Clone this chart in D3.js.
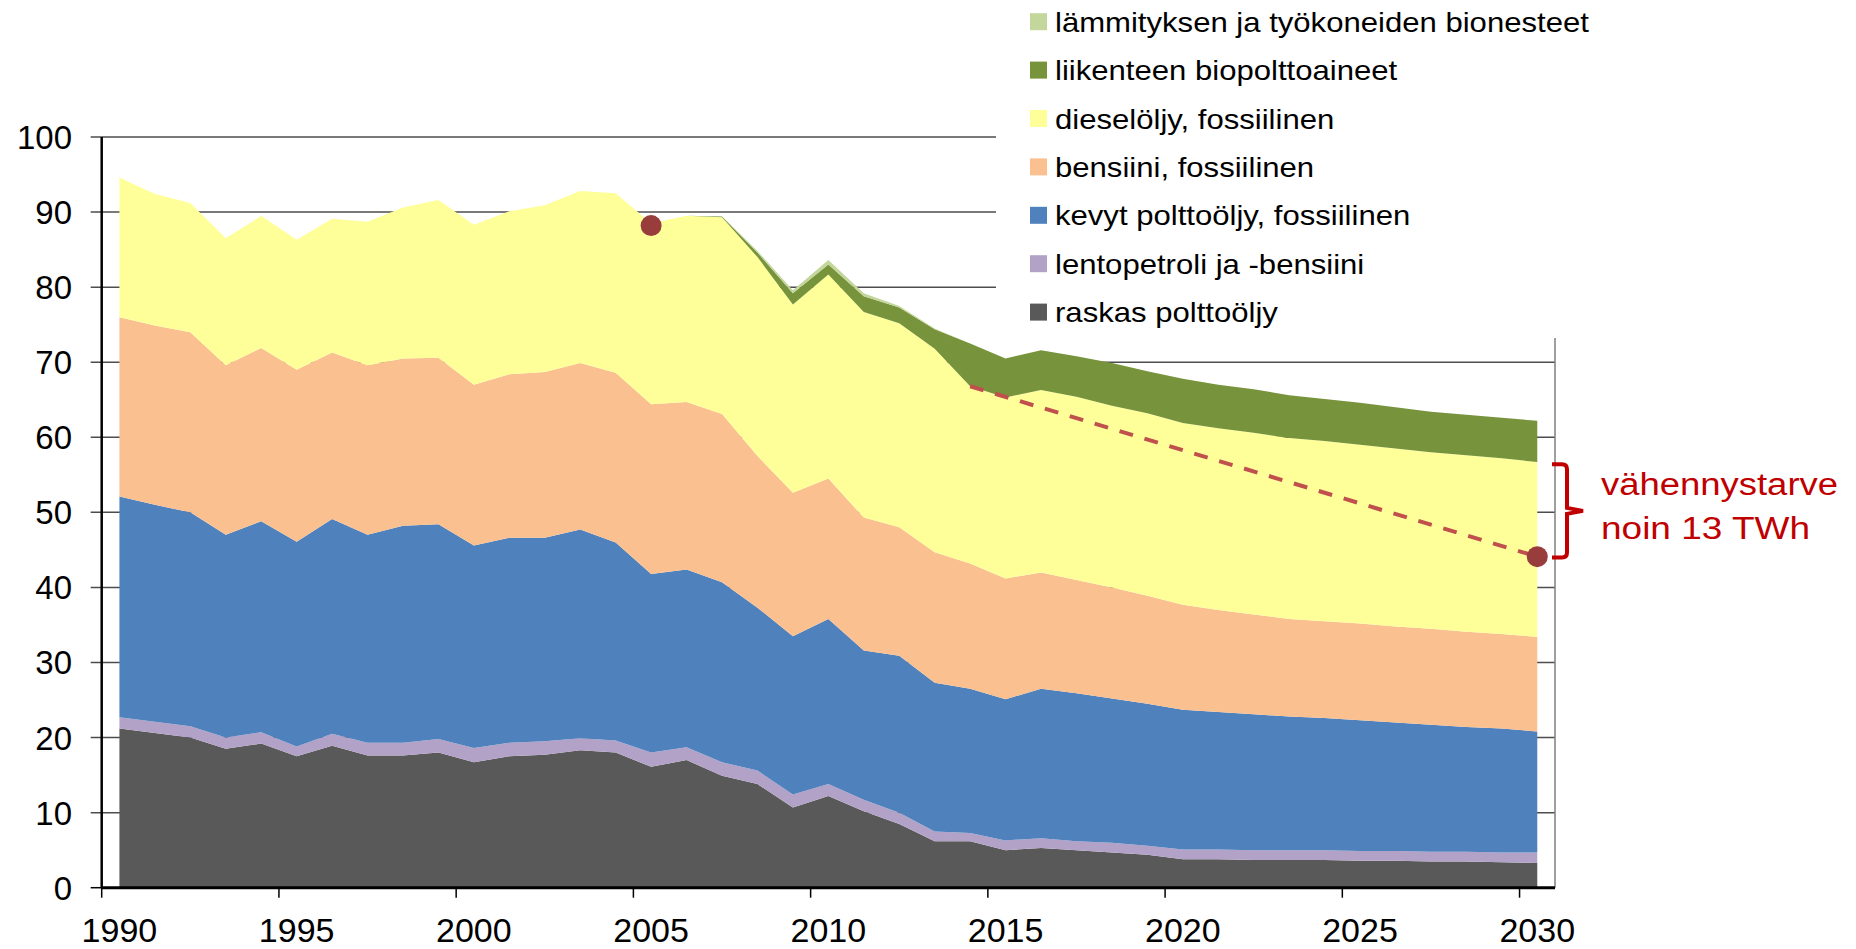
<!DOCTYPE html>
<html>
<head>
<meta charset="utf-8">
<script src="https://cdn.jsdelivr.net/npm/d3@7/dist/d3.min.js"></script>
<style>
body { margin: 0; background: #fff; }
svg { display: block; font-family: "Liberation Sans", Arial, sans-serif; }
</style>
</head>
<body>
<div id="chart"></div>
<script>
// vuodet (kategoriat)
var years = [1990, 1991, 1992, 1993, 1994, 1995, 1996, 1997, 1998, 1999,
	2000, 2001, 2002, 2003, 2004, 2005, 2006, 2007, 2008, 2009,
	2010, 2011, 2012, 2013, 2014, 2015, 2016, 2017, 2018, 2019,
	2020, 2021, 2022, 2023, 2024, 2025, 2026, 2027, 2028, 2029, 2030];

// TWh per sarja, alhaalta ylös
var raskas = [21.2, 20.6, 20.0, 18.5, 19.2, 17.5, 18.9, 17.6, 17.6, 18.0,
	16.7, 17.5, 17.7, 18.3, 18.0, 16.1, 17.0, 14.9, 13.8, 10.7,
	12.2, 10.2, 8.5, 6.2, 6.2, 5.0, 5.3, 5.0, 4.7, 4.4,
	3.8, 3.8, 3.7, 3.7, 3.7, 3.6, 3.6, 3.5, 3.5, 3.4, 3.3];
var lento = [1.5, 1.5, 1.5, 1.5, 1.5, 1.3, 1.6, 1.7, 1.7, 1.8,
	1.9, 1.8, 1.8, 1.6, 1.6, 1.9, 1.7, 1.8, 1.8, 1.7,
	1.6, 1.5, 1.5, 1.3, 1.1, 1.3, 1.3, 1.2, 1.3, 1.2,
	1.3, 1.3, 1.3, 1.3, 1.3, 1.3, 1.3, 1.3, 1.3, 1.3, 1.4];
var kevyt = [29.4, 28.9, 28.5, 27.0, 28.1, 27.3, 28.6, 27.7, 28.9, 28.6,
	27.0, 27.3, 27.1, 27.8, 26.4, 23.8, 23.7, 24.0, 21.7, 21.1,
	22.0, 19.9, 20.9, 19.8, 19.2, 18.8, 19.9, 19.7, 19.2, 18.9,
	18.6, 18.3, 18.1, 17.8, 17.6, 17.4, 17.1, 16.9, 16.6, 16.5, 16.1];
var bensiini = [23.9, 23.9, 24.0, 22.6, 23.1, 22.9, 22.2, 22.6, 22.3, 22.2,
	21.4, 21.8, 22.1, 22.2, 22.6, 22.6, 22.3, 22.4, 20.2, 19.1,
	18.7, 17.7, 17.1, 17.4, 16.7, 16.1, 15.5, 15.1, 14.8, 14.4,
	14.0, 13.6, 13.3, 13.0, 12.9, 12.9, 12.8, 12.8, 12.7, 12.6, 12.6];
var diesel = [18.6, 17.5, 17.2, 16.9, 17.6, 17.3, 17.8, 19.1, 20.1, 21.0,
	21.3, 21.7, 22.2, 22.9, 23.9, 24.1, 24.8, 26.2, 26.5, 25.1,
	27.2, 27.4, 27.2, 27.1, 23.6, 24.1, 24.3, 24.4, 24.2, 24.3,
	24.2, 24.2, 24.2, 24.1, 24.0, 23.8, 23.7, 23.5, 23.5, 23.4, 23.3];
var liikenneBio = [0, 0, 0, 0, 0, 0, 0, 0, 0, 0,
	0, 0, 0, 0, 0, 0, 0, 0.1, 0.6, 1.5,
	1.3, 2.1, 2.1, 2.6, 5.7, 5.2, 5.3, 5.4, 5.7, 5.6,
	5.9, 5.8, 5.8, 5.7, 5.6, 5.6, 5.5, 5.4, 5.4, 5.4, 5.5];
var lammitysBio = [0, 0, 0, 0, 0, 0, 0, 0, 0, 0,
	0, 0, 0, 0, 0, 0, 0, 0, 0.2, 0.4,
	0.6, 0.4, 0.2, 0.1, 0, 0, 0, 0, 0, 0,
	0, 0, 0, 0, 0, 0, 0, 0, 0, 0, 0];

var seriesNames = ["raskas polttoöljy", "lentopetroli ja -bensiini", "kevyt polttoöljy, fossiilinen",
	"bensiini, fossiilinen", "dieselöljy, fossiilinen", "liikenteen biopolttoaineet",
	"lämmityksen ja työkoneiden bionesteet"];
var seriesValues = [raskas, lento, kevyt, bensiini, diesel, liikenneBio, lammitysBio];
var seriesColors = ["#595959", "#b3a2c7", "#4f81bd", "#fac090", "#ffff99", "#77933c", "#c3d69b"];

var yTicks = [0, 10, 20, 30, 40, 50, 60, 70, 80, 90, 100];
var xTickYears = [1990, 1995, 2000, 2005, 2010, 2015, 2020, 2025, 2030];

// tavoitepisteet ja vähennyspolku
var targetYears = [2005, 2030];
var targetValues = [88.2, 44.1];
var pathYears = [2014, 2030];
var pathValues = [66.8, 44.1];
var braceValues = [56.4, 44.0];
var noteLines = ["vähennystarve", "noin 13 TWh"];

var width = 1856, height = 949;

var svg = d3.select("#chart").append("svg")
	.attr("width", width)
	.attr("height", height);

var x = d3.scaleLinear().domain([1990, 2031]).range([101.7, 1555]);
var y = d3.scaleLinear().domain([0, 100]).range([887.7, 137]);

// venytetään teksti kuten alkuperäisessä kuvassa
function stretch(sel, k) {
	sel.each(function() {
		var w = this.getComputedTextLength();
		d3.select(this).attr("textLength", w * k).attr("lengthAdjust", "spacingAndGlyphs");
	});
}

// taulukko pinoamista varten
var table = years.map(function(yr, i) {
	var row = {year: yr};
	seriesNames.forEach(function(n, j) { row[n] = seriesValues[j][i]; });
	return row;
});
var stacked = d3.stack().keys(seriesNames)(table);

// vaakaviivat
svg.append("g").selectAll("line")
	.data(yTicks.slice(1))
	.enter().append("line")
	.attr("x1", x(1990) - 11)
	.attr("x2", x(2031))
	.attr("y1", function(d) { return y(d); })
	.attr("y2", function(d) { return y(d); })
	.attr("stroke", "#4d4d4d")
	.attr("stroke-width", 1.5);

var area = d3.area()
	.x(function(d) { return x(d.data.year + 0.5); })
	.y0(function(d) { return y(d[0]); })
	.y1(function(d) { return y(d[1]); });

svg.append("g").selectAll("path")
	.data(stacked)
	.enter().append("path")
	.attr("d", area)
	.attr("fill", function(d, i) { return seriesColors[i]; });

// selitteen tausta peittää ruudukon
svg.append("rect")
	.attr("x", 996).attr("y", 0)
	.attr("width", width - 996).attr("height", 337)
	.attr("fill", "#fff");

// oikea reuna
svg.append("line")
	.attr("x1", x(2031)).attr("x2", x(2031))
	.attr("y1", 338).attr("y2", y(0))
	.attr("stroke", "#7f7f7f").attr("stroke-width", 1.5);

// y-akseli
svg.append("line")
	.attr("x1", x(1990)).attr("x2", x(1990))
	.attr("y1", y(100)).attr("y2", y(0))
	.attr("stroke", "#000").attr("stroke-width", 2.5);

svg.append("line")
	.attr("x1", x(1990) - 11).attr("x2", x(1990))
	.attr("y1", y(0)).attr("y2", y(0))
	.attr("stroke", "#000").attr("stroke-width", 1.5);

svg.append("g").selectAll("text")
	.data(yTicks)
	.enter().append("text")
	.attr("x", 72)
	.attr("y", function(d) { return y(d) + 12; })
	.attr("text-anchor", "end")
	.attr("font-size", 33)
	.attr("fill", "#000")
	.text(function(d) { return d; });

// x-akseli
svg.append("line")
	.attr("x1", x(1990)).attr("x2", x(2031))
	.attr("y1", y(0)).attr("y2", y(0))
	.attr("stroke", "#000").attr("stroke-width", 3);

svg.append("g").selectAll("line")
	.data(xTickYears)
	.enter().append("line")
	.attr("x1", function(d) { return x(d); })
	.attr("x2", function(d) { return x(d); })
	.attr("y1", y(0)).attr("y2", y(0) + 10)
	.attr("stroke", "#000").attr("stroke-width", 1.5);

svg.append("g").selectAll("text")
	.data(xTickYears)
	.enter().append("text")
	.attr("x", function(d) { return x(d + 0.5); })
	.attr("y", 942)
	.attr("text-anchor", "middle")
	.attr("font-size", 33)
	.attr("fill", "#000")
	.text(function(d) { return d; })
	.call(stretch, 1.03);

// vähennyspolku
svg.append("line")
	.attr("x1", x(pathYears[0] + 0.5)).attr("y1", y(pathValues[0]))
	.attr("x2", x(pathYears[1] + 0.5)).attr("y2", y(pathValues[1]))
	.attr("stroke", "#c0504d")
	.attr("stroke-width", 4)
	.attr("stroke-dasharray", "14,12");

svg.append("g").selectAll("circle")
	.data(targetYears)
	.enter().append("circle")
	.attr("cx", function(d) { return x(d + 0.5); })
	.attr("cy", function(d, i) { return y(targetValues[i]); })
	.attr("r", 10.5)
	.attr("fill", "#983c3c");

// aaltosulku
var bx = x(2031) - 3, bTop = y(braceValues[0]), bBot = y(braceValues[1]), bMid = (bTop + bBot) / 2;
svg.append("path")
	.attr("d", "M" + bx + "," + bTop + " L" + (bx + 10) + "," + bTop +
		" Q" + (bx + 15) + "," + bTop + " " + (bx + 15) + "," + (bTop + 5) +
		" L" + (bx + 15) + "," + (bMid - 3) + " L" + (bx + 31) + "," + bMid +
		" L" + (bx + 15) + "," + (bMid + 3) + " L" + (bx + 15) + "," + (bBot - 5) +
		" Q" + (bx + 15) + "," + bBot + " " + (bx + 10) + "," + bBot + " L" + bx + "," + bBot)
	.attr("fill", "none")
	.attr("stroke", "#c00000")
	.attr("stroke-width", 4);

svg.append("g").selectAll("text")
	.data(noteLines)
	.enter().append("text")
	.attr("x", 1601)
	.attr("y", function(d, i) { return 495 + i * 44; })
	.attr("font-size", 31)
	.attr("fill", "#c00000")
	.attr("textLength", function(d, i) { return i == 0 ? 237 : 209; })
	.attr("lengthAdjust", "spacingAndGlyphs")
	.text(function(d) { return d; });

// selite, ylhäältä alas
var legendOrder = seriesNames.map(function(n, i) { return i; }).reverse();
var legend = svg.append("g").selectAll("g")
	.data(legendOrder)
	.enter().append("g")
	.attr("transform", function(d, i) { return "translate(1030," + (21.7 + i * 48.4) + ")"; });

legend.append("rect")
	.attr("x", 0).attr("y", -8.5)
	.attr("width", 17).attr("height", 17)
	.attr("fill", function(d) { return seriesColors[d]; });

legend.append("text")
	.attr("x", 25)
	.attr("y", 10)
	.attr("font-size", 28)
	.attr("fill", "#000")
	.text(function(d) { return seriesNames[d]; })
	.call(stretch, 1.11);
</script>
</body>
</html>
